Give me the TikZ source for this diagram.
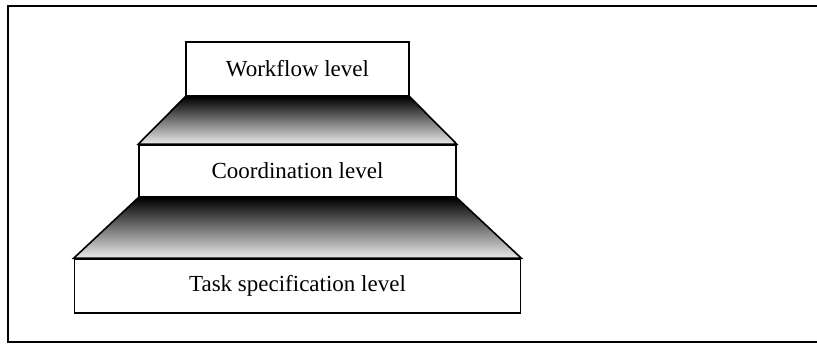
\documentclass[tikz,border=0pt]{standalone}
\usepackage{fontspec}
\setmainfont{Liberation Serif}
\usepackage{xcolor}

\begin{document}
\begin{tikzpicture}[x=0.5pt,y=-0.5pt]
    \tikzstyle{level}=[draw=black,fill=white,line width=0.8pt,inner sep=0pt,font=\fontsize{11.5}{13}\selectfont]
    \tikzstyle{ramp}=[draw=black,line width=0.8pt,top color=black,bottom color=black!8]
    \tikzstyle{frame}=[draw=black,line width=1pt]

    \def\cx{297.5}

    \useasboundingbox (0,0) rectangle (817,343);
    \draw [frame] (817,5.5) -- (7.5,5.5) -- (7.5,341.5) -- (817,341.5);

    \node[level, minimum width=111.5pt, minimum height=27pt]  (wf) at (\cx,69) {Workflow level};
    \node[level, minimum width=158.5pt, minimum height=26pt]  (co) at (\cx,171) {Coordination level};
    \node[level, minimum width=223pt, minimum height=27pt]  (ts) at (\cx,286) {Task specification level};

   \shade [ramp] (wf.south west) -- (wf.south east) -- (co.north east) -- (co.north west) -- cycle;
   \shade [ramp] (co.south west) -- (co.south east) -- (ts.north east) -- (ts.north west) -- cycle;

\end{tikzpicture}
\end{document}
